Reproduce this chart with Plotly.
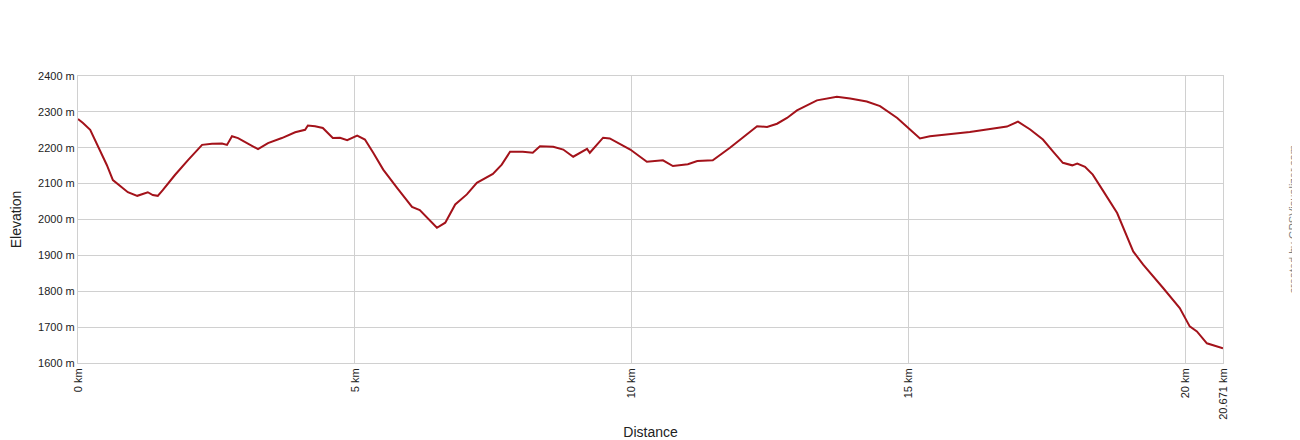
import plotly.graph_objects as go

distance_km = [
    0.00, 0.09, 0.22, 0.31, 0.40, 0.52, 0.63, 0.72, 0.90, 1.07,
    1.21, 1.26, 1.35, 1.44, 1.53, 1.75, 1.99, 2.24, 2.42, 2.60,
    2.69, 2.78, 2.89, 3.07, 3.25, 3.43, 3.68, 3.92, 4.10, 4.15,
    4.28, 4.42, 4.60, 4.73, 4.86, 5.04, 5.18, 5.33, 5.51, 5.76,
    6.03, 6.17, 6.48, 6.63, 6.81, 7.02, 7.20, 7.49, 7.65, 7.80,
    8.03, 8.21, 8.34, 8.58, 8.76, 8.94, 9.19, 9.24, 9.48, 9.60,
    9.79, 9.97, 10.27, 10.56, 10.74, 11.01, 11.18, 11.46, 11.77, 12.04,
    12.26, 12.44, 12.62, 12.80, 12.98, 13.34, 13.70, 13.94, 14.24, 14.48,
    14.79, 15.02, 15.20, 15.38, 16.10, 16.77, 16.97, 17.19, 17.42, 17.60,
    17.78, 17.95, 18.04, 18.18, 18.32, 18.51, 18.76, 19.05, 19.23, 19.59,
    19.89, 20.07, 20.20, 20.38, 20.53, 20.671,
]
elevation_m = [
    2280, 2269, 2250, 2222, 2190, 2152, 2110, 2099, 2076, 2066,
    2072, 2076, 2068, 2066, 2082, 2124, 2166, 2208, 2211, 2212,
    2208, 2232, 2227, 2211, 2196, 2213, 2227, 2243, 2250, 2262,
    2260, 2255, 2227, 2228, 2221, 2234, 2223, 2186, 2139, 2088,
    2035, 2026, 1977, 1991, 2042, 2070, 2102, 2127, 2153, 2189,
    2189, 2186, 2204, 2203, 2195, 2175, 2197, 2186, 2228, 2226,
    2209, 2195, 2161, 2165, 2149, 2154, 2163, 2165, 2200, 2232,
    2260, 2258, 2267, 2283, 2304, 2332, 2342, 2337, 2329, 2316,
    2283, 2251, 2226, 2232, 2244, 2259, 2273, 2251, 2223, 2190,
    2158, 2151, 2156, 2147, 2125, 2079, 2018, 1911, 1874, 1809,
    1753, 1702, 1688, 1655, 1647, 1641,
]

x_tick_vals = [0, 5, 10, 15, 20, 20.671]
x_tick_text = ["0 km", "5 km", "10 km", "15 km", "20 km", "20.671 km"]
y_tick_vals = [1600, 1700, 1800, 1900, 2000, 2100, 2200, 2300, 2400]
y_tick_text = [f"{v} m" for v in y_tick_vals]

fig = go.Figure()
fig.add_trace(go.Scatter(
    x=distance_km, y=elevation_m, mode="lines",
    line=dict(color="#a3121a", width=2),
    hoverinfo="skip", showlegend=False,
))

font = "Liberation Sans, Arial, sans-serif"
fig.update_layout(
    width=1292, height=432,
    margin=dict(l=70, r=77, t=68, b=77),
    paper_bgcolor="white", plot_bgcolor="white",
    font=dict(family=font, size=11, color="#222222"),
    xaxis=dict(
        range=[0, 20.671], tickvals=x_tick_vals, ticktext=x_tick_text,
        tickangle=-90, showgrid=True, gridcolor="#d0d0d0", gridwidth=1,
        showline=True, linecolor="#d0d0d0", mirror=True, zeroline=False,
        ticks="", tickfont=dict(size=11, color="#222222"), automargin=False,
        title=dict(text="Distance", font=dict(size=14, color="#222222"), standoff=8),
    ),
    yaxis=dict(
        range=[1600, 2400], tickvals=y_tick_vals, ticktext=y_tick_text,
        showgrid=True, gridcolor="#d0d0d0", gridwidth=1,
        showline=True, linecolor="#d0d0d0", mirror=True, zeroline=False,
        ticks="", tickfont=dict(size=11, color="#222222"), automargin=False,
        title=dict(text="Elevation", font=dict(size=14, color="#222222"), standoff=13),
    ),
    annotations=[dict(
        text="created by GPSVisualizer.com", textangle=-90,
        xref="paper", yref="paper", x=1.0, y=0.5, xshift=69,
        showarrow=False, font=dict(size=11, color="#808080", family=font),
        xanchor="center", yanchor="middle",
    )],
)

fig.write_html("out.html")
